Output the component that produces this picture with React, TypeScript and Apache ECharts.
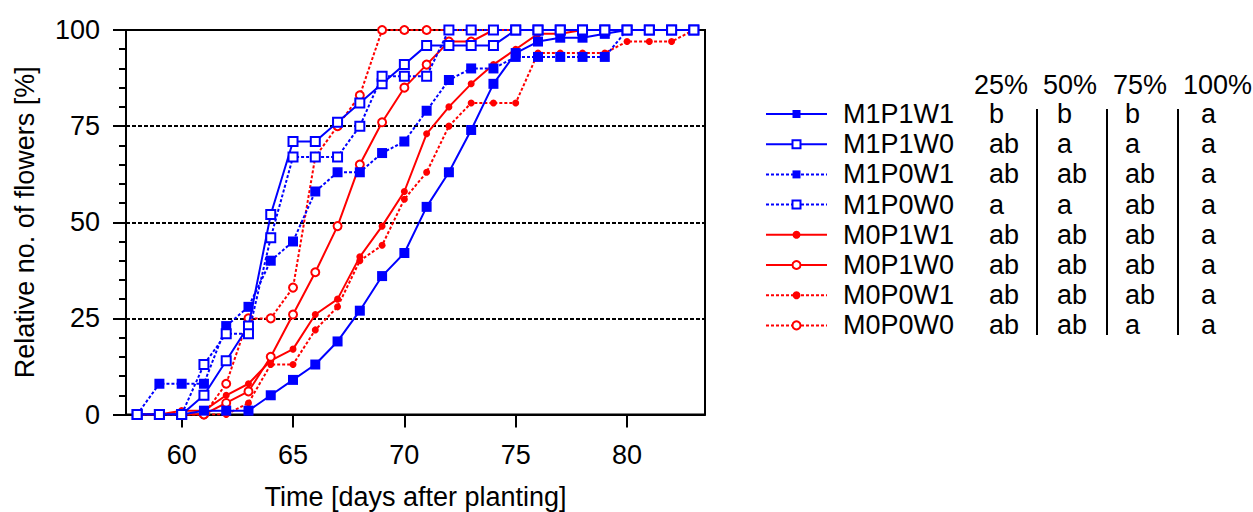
import React, { useEffect, useRef } from "react";
import * as echarts from "echarts";

// ---- data ----
const days = [58, 59, 60, 61, 62, 63, 64, 65, 66, 67, 68, 69, 70, 71, 72, 73, 74, 75, 76, 77, 78, 79, 80, 81, 82, 83];
const m1p1w1 = [0, 0, 0, 1, 1, 1, 5, 9, 13, 19, 27, 36, 42, 54, 63, 74, 86, 94, 97, 98, 98, 99, 100, 100, 100, 100];
const m1p1w0 = [0, 0, 0, 5, 14, 23, 52, 71, 71, 76, 81, 86, 91, 96, 96, 96, 96, 100, 100, 100, 100, 100, 100, 100, 100, 100];
const m1p0w1 = [0, 8, 8, 8, 23, 28, 40, 45, 58, 63, 63, 68, 71, 79, 87, 90, 90, 93, 93, 93, 93, 93, 100, 100, 100, 100];
const m1p0w0 = [0, 0, 0, 13, 21, 21, 46, 67, 67, 67, 75, 88, 88, 88, 100, 100, 100, 100, 100, 100, 100, 100, 100, 100, 100, 100];
const m0p1w1 = [0, 0, 1, 1, 5, 8, 14, 17, 26, 30, 41, 49, 58, 73, 80, 86, 91, 95, 99, 99, 100, 100, 100, 100, 100, 100];
const m0p1w0 = [0, 0, 0, 0, 3, 6, 15, 26, 37, 49, 65, 76, 85, 91, 97, 97, 100, 100, 100, 100, 100, 100, 100, 100, 100, 100];
const m0p0w1 = [0, 0, 0, 0, 0, 3, 13, 13, 22, 28, 40, 44, 56, 63, 75, 81, 81, 81, 94, 94, 94, 94, 97, 97, 97, 100];
const m0p0w0 = [0, 0, 0, 0, 8, 25, 25, 33, 67, 75, 83, 100, 100, 100, 100, 100, 100, 100, 100, 100, 100, 100, 100, 100, 100, 100];

const seriesNames = ["M1P1W1", "M1P1W0", "M1P0W1", "M1P0W0", "M0P1W1", "M0P1W0", "M0P0W1", "M0P0W0"];
const seriesValues = [m1p1w1, m1p1w0, m1p0w1, m1p0w0, m0p1w1, m0p1w0, m0p0w1, m0p0w0];

const xTicks = [60, 65, 70, 75, 80];
const yTicks = [0, 25, 50, 75, 100];

const tableHeaders = ["25%", "50%", "75%", "100%"];
const letters25 = ["b", "ab", "ab", "a", "ab", "ab", "ab", "ab"];
const letters50 = ["b", "a", "ab", "a", "ab", "ab", "ab", "ab"];
const letters75 = ["b", "a", "ab", "ab", "ab", "ab", "ab", "a"];
const letters100 = ["a", "a", "a", "a", "a", "a", "a", "a"];
const tableColumns = [letters25, letters50, letters75, letters100];

// ---- styles ----
const BLUE = "#0000ff";
const RED = "#ff0000";
const FONT = "Liberation Sans, Arial, sans-serif";
const FS = 27;

type Sty = { color: string; dotted: boolean; shape: "rect" | "circle"; open: boolean; size: number };
const styles: Sty[] = [
  { color: BLUE, dotted: false, shape: "rect", open: false, size: 10 },
  { color: BLUE, dotted: false, shape: "rect", open: true, size: 9 },
  { color: BLUE, dotted: true, shape: "rect", open: false, size: 10 },
  { color: BLUE, dotted: true, shape: "rect", open: true, size: 9 },
  { color: RED, dotted: false, shape: "circle", open: false, size: 7 },
  { color: RED, dotted: false, shape: "circle", open: true, size: 8 },
  { color: RED, dotted: true, shape: "circle", open: false, size: 7 },
  { color: RED, dotted: true, shape: "circle", open: true, size: 8 },
];

export default function App() {
  const ref = useRef<HTMLDivElement>(null);
  useEffect(() => {
    document.body.style.margin = "0";
    if (!ref.current) return;
    const chart = echarts.init(ref.current, undefined, { renderer: "svg" });

    const series: any[] = seriesNames.map((name, i) => {
      const s = styles[i];
      return {
        name,
        type: "line",
        data: days.map((d, j) => [d, seriesValues[i][j]]),
        symbol: s.shape,
        symbolSize: s.size,
        showSymbol: true,
        z: s.color === BLUE ? 3 : 2,
        lineStyle: { color: s.color, width: 2, type: s.dotted ? [3, 2] : "solid" },
        itemStyle: s.open
          ? { color: "#ffffff", borderColor: s.color, borderWidth: 2 }
          : { color: s.color, borderColor: s.color, borderWidth: 0 },
        emphasis: { disabled: true },
      };
    });
    // draw red first, blue on top
    const ordered = [...series.slice(4), ...series.slice(0, 4)];

    const rowY0 = 114;
    const rowStep = 30.2;
    const colX = [989, 1057, 1125, 1201];
    const headX = [974, 1043, 1113, 1183];
    const sepX = [1037, 1107, 1178];
    const graphics: any[] = [];
    tableHeaders.forEach((h, k) => {
      graphics.push({
        type: "text",
        style: { text: h, x: headX[k], y: 85, font: `${FS}px ${FONT}`, fill: "#000", textAlign: "left", textVerticalAlign: "middle" },
      });
    });
    tableColumns.forEach((col, k) => {
      col.forEach((t, r) => {
        graphics.push({
          type: "text",
          style: { text: t, x: colX[k], y: rowY0 + r * rowStep, font: `${FS}px ${FONT}`, fill: "#000", textAlign: "left", textVerticalAlign: "middle" },
        });
      });
    });
    sepX.forEach((x) => {
      graphics.push({ type: "line", shape: { x1: x, y1: 109, x2: x, y2: 335 }, style: { stroke: "#000", lineWidth: 2 } });
    });

    chart.setOption({
      animation: false,
      backgroundColor: "#ffffff",
      grid: {
        left: 126, right: 548, top: 30, bottom: 97.5,
        outerBoundsMode: "none",
        containLabel: false,
        show: true, borderColor: "#000", borderWidth: 2, backgroundColor: "transparent",
      },
      xAxis: {
        type: "value",
        min: 57.5,
        max: 83.5,
        name: "Time [days after planting]",
        nameLocation: "middle",
        nameGap: 69,
        nameTextStyle: { fontFamily: FONT, fontSize: FS, color: "#000" },
        axisLine: { show: true, onZero: false, lineStyle: { color: "#000", width: 2 } },
        axisTick: { show: true, length: 13, customValues: xTicks, lineStyle: { color: "#000", width: 2 } },
        axisLabel: { customValues: xTicks, margin: 27, fontFamily: FONT, fontSize: FS, color: "#000" },
        splitLine: { show: false },
      },
      yAxis: {
        type: "value",
        min: 0,
        max: 100,
        interval: 25,
        name: "Relative no. of flowers [%]",
        nameLocation: "middle",
        nameGap: 88,
        nameTextStyle: { fontFamily: FONT, fontSize: FS, color: "#000" },
        axisLine: { show: true, lineStyle: { color: "#000", width: 2 } },
        axisTick: { show: true, length: 13, lineStyle: { color: "#000", width: 2 } },
        minorTick: { show: true, splitNumber: 5, length: 7, lineStyle: { color: "#000", width: 2 } },
        axisLabel: { margin: 26, fontFamily: FONT, fontSize: FS, color: "#000", customValues: yTicks },
        splitLine: { show: true, lineStyle: { color: "#000", width: 2, type: [4, 2] } },
      },
      legend: {
        orient: "vertical",
        left: 765,
        top: 100.5,
        padding: 0,
        itemWidth: 61,
        itemHeight: 10,
        itemGap: 3.2,
        selectedMode: false,
        data: seriesNames,
        textStyle: { fontFamily: FONT, fontSize: FS, color: "#000", padding: [0, 0, 0, 11] },
      },
      series: ordered,
      graphic: graphics,
    });
    return () => chart.dispose();
  }, []);
  return <div ref={ref} style={{ width: 1253, height: 512 }} />;
}
